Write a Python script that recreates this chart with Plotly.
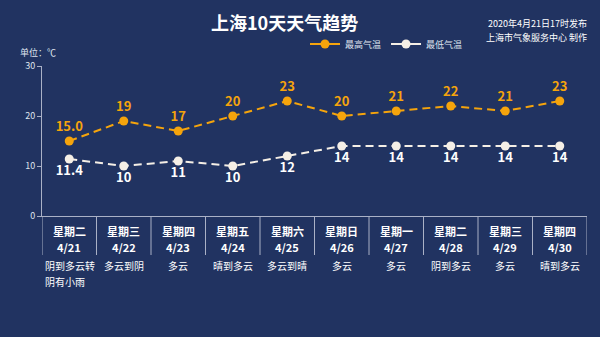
import plotly.graph_objects as go

weekdays = ["星期二", "星期三", "星期四", "星期五", "星期六", "星期日", "星期一", "星期二", "星期三", "星期四"]
dates = ["4/21", "4/22", "4/23", "4/24", "4/25", "4/26", "4/27", "4/28", "4/29", "4/30"]
weather = ["阴到多云转<br>阴有小雨", "多云到阴", "多云", "晴到多云", "多云到晴", "多云", "多云", "阴到多云", "多云", "晴到多云"]
high = [15.0, 19, 17, 20, 23, 20, 21, 22, 21, 23]
low = [11.4, 10, 11, 10, 12, 14, 14, 14, 14, 14]
high_labels = ["15.0", "19", "17", "20", "23", "20", "21", "22", "21", "23"]
low_labels = ["11.4", "10", "11", "10", "12", "14", "14", "14", "14", "14"]

BG = "#213361"
ORANGE = "#F5A40C"
CREAM = "#F5EFE6"
FONT = "Noto Sans CJK SC"
x = list(range(len(dates)))

W, H = 600, 337
L, R, T, B = 42, 13, 66, 121
pw, ph = W - L - R, H - T - B


def py(pix):
    """pixel row -> paper y"""
    return 1 - (pix - T) / ph


fig = go.Figure()
fig.add_trace(go.Scatter(
    x=x, y=high, name="最高气温", mode="lines+markers+text", showlegend=False,
    line=dict(color=ORANGE, width=2, dash="8px,5px"),
    marker=dict(color=ORANGE, size=9),
    text=high_labels, textposition="top center",
    textfont=dict(color=ORANGE, size=13, family=FONT, weight="bold"),
))
fig.add_trace(go.Scatter(
    x=x, y=low, name="最低气温", mode="lines+markers+text", showlegend=False,
    line=dict(color=CREAM, width=2, dash="8px,5px"),
    marker=dict(color=CREAM, size=9),
    text=low_labels, textposition="bottom center",
    textfont=dict(color="#ffffff", size=13, family=FONT, weight="bold"),
))
# legend entries (solid line + marker, as in the reference legend)
for name, col in [("最高气温", ORANGE), ("最低气温", CREAM)]:
    fig.add_trace(go.Scatter(x=[None], y=[None], name=name, mode="lines+markers",
                             line=dict(color=col, width=2), marker=dict(color=col, size=9)))

shapes = []
for i in range(len(dates) + 1):
    shapes.append(dict(type="line", xref="x", yref="paper", x0=i - 0.5, x1=i - 0.5,
                       y0=0, y1=py(255), line=dict(color="#aab1c6", width=1)))

annotations = []
for i in x:
    annotations.append(dict(x=i, y=py(231), xref="x", yref="paper", text=f"<b>{weekdays[i]}</b>",
                            showarrow=False, yanchor="middle", xanchor="center",
                            font=dict(color="#ffffff", size=11, family=FONT)))
    annotations.append(dict(x=i, y=py(247), xref="x", yref="paper", text=f"<b>{dates[i]}</b>",
                            showarrow=False, yanchor="middle", xanchor="center",
                            font=dict(color="#ffffff", size=11, family=FONT)))
    lines = weather[i].split("<br>")
    for k, ln in enumerate(lines):
        a = dict(x=i, y=py(265 + 16 * k), xref="x", yref="paper", text=ln, showarrow=False,
                 yanchor="middle", font=dict(color="#ffffff", size=10, family=FONT))
        if len(lines) > 1:
            a.update(xanchor="left", xshift=-len(lines[0]) * 10 / 2 - 1)
        else:
            a.update(xanchor="center")
        annotations.append(a)

annotations += [
    dict(x=(284 - L) / pw, y=py(22), xref="paper", yref="paper",
         text="<b>上海10天天气趋势</b>", showarrow=False, yanchor="middle",
         font=dict(color="#ffffff", size=18, family=FONT)),
    dict(x=(589 - L) / pw, y=py(24), xref="paper", yref="paper",
         text="2020年4月21日17时发布", showarrow=False, xanchor="right", yanchor="middle",
         font=dict(color="#ffffff", size=9, family=FONT)),
    dict(x=(589 - L) / pw, y=py(38), xref="paper", yref="paper",
         text="上海市气象服务中心 制作", showarrow=False, xanchor="right", yanchor="middle",
         font=dict(color="#ffffff", size=9, family=FONT)),
    dict(x=(58 - L) / pw, y=py(52), xref="paper", yref="paper", text="单位：℃",
         showarrow=False, xanchor="right", yanchor="middle",
         font=dict(color="#dfe3ee", size=9, family=FONT)),
]

fig.update_layout(
    width=W, height=H,
    margin=dict(l=L, r=R, t=T, b=B),
    paper_bgcolor=BG, plot_bgcolor=BG,
    font=dict(family=FONT, color="#ffffff"),
    showlegend=True,
    legend=dict(orientation="h", x=(305 - L) / pw, y=py(44), xanchor="left", yanchor="middle",
                font=dict(size=9, color="#dfe3ee"), bgcolor="rgba(0,0,0,0)", itemwidth=30),
    xaxis=dict(range=[-0.5, 9.5], tickmode="array", tickvals=x, showticklabels=False,
               showgrid=False, zeroline=False, showline=True, linecolor="#aab1c6", linewidth=1,
               ticks="", fixedrange=True),
    yaxis=dict(range=[0, 30], tickvals=[0, 10, 20, 30], showgrid=False, zeroline=False,
               showline=True, linecolor="#aab1c6", linewidth=1, ticks="outside", ticklen=4,
               tickcolor="#aab1c6", tickfont=dict(size=9, color="#dfe3ee", family=FONT), fixedrange=True),
    shapes=shapes, annotations=annotations,
)

fig.write_html("out.html", config={"displayModeBar": False})
